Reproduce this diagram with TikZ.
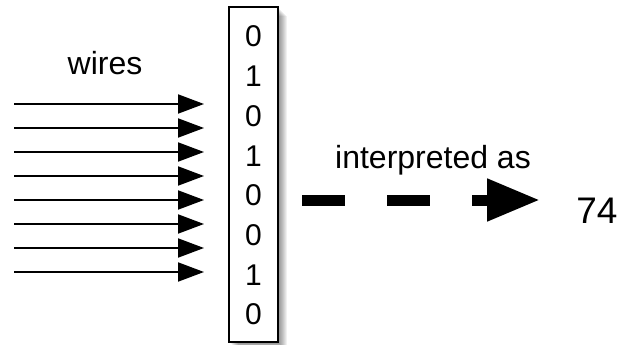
\documentclass[tikz,border=0pt]{standalone}
\usepackage{fontspec}
\setmainfont{Liberation Sans}
\usetikzlibrary{arrows.meta}
\tikzset{
  wire/.style={line width=2pt, -{Triangle[length=26pt,width=19pt]}},
  bitbox/.style={draw, line width=2pt, fill=white, minimum width=49pt, minimum height=335pt, inner sep=0pt},
  bit/.style={anchor=base, inner sep=0pt, font=\fontsize{30}{36}\selectfont},
  lbl/.style={anchor=base, inner sep=0pt, font=\fontsize{32}{38}\selectfont},
  bigval/.style={anchor=base, inner sep=0pt, font=\fontsize{37}{44}\selectfont},
  interp/.style={line width=11pt, dash pattern=on 43pt off 42pt, -{Triangle[length=53pt,width=40pt]}},
}
\begin{document}
\begin{tikzpicture}[x=1pt,y=-1pt]
\useasboundingbox (0,0) rectangle (619,345);
% shadow
\foreach \i in {1,...,9}{
  \fill[black, opacity=0.06] (229+\i,7+\i) rectangle (278+\i,342+\i);
}
\node[bitbox] (box) at (253.5,174.5) {};
\foreach \b [count=\k from 0] in {0,1,0,1,0,0,1,0}{
  \node[bit] (b\k) at (253.5,{47+39.7*\k}) {\b};
}
\node[lbl] (wires) at (105,75) {wires};
\foreach \k in {0,...,7}{
  \coordinate (ws\k) at (14,{104+24*\k});
  \coordinate (we\k) at (204,{104+24*\k});
  \draw[wire] (ws\k) -- (we\k);
}
\node[lbl] (interp) at (433,168) {interpreted as};
\node[bigval] (val) at (597,223) {74};
\coordinate (ds) at (302,200);
\coordinate (de) at (540,200);
\draw[interp] (ds) -- (de);
\end{tikzpicture}
\end{document}
